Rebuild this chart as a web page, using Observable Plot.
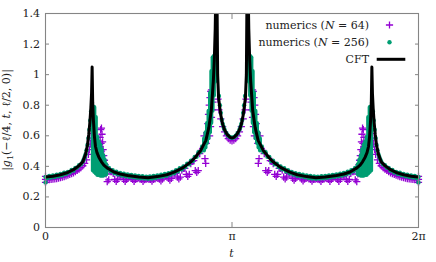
<!DOCTYPE html>
<html><head><meta charset="utf-8">
<script src="https://cdn.jsdelivr.net/npm/d3@7"></script>
<script src="https://cdn.jsdelivr.net/npm/@observablehq/plot@0.6"></script>
<style>
html,body{margin:0;padding:0;background:#fff;}
#chart svg{display:block;}
</style></head><body><div id="chart"></div>
<script>
// t is stored in units of pi
const xTicks = [0, 1, 2];
const xTickLabels = ["0", "π", "2π"];
const yTicks = [0, 0.2, 0.4, 0.6, 0.8, 1, 1.2, 1.4];
const yTickLabels = ["0", "0.2", "0.4", "0.6", "0.8", "1", "1.2", "1.4"];
const seriesNames = ["numerics (N = 64)", "numerics (N = 256)", "CFT"];
const seriesColors = ["#9400d3", "#009e73", "#000000"];

// CFT curve [t/pi, |g1|]
const cft = [
[0,0.330],[0.04,0.335],[0.08,0.345],[0.12,0.360],[0.15,0.378],[0.18,0.405],[0.20,0.430],[0.215,0.480],[0.225,0.540],[0.232,0.610],[0.238,0.690],[0.243,0.780],[0.247,0.880],[0.25,1.050],[0.253,0.820],[0.257,0.700],[0.262,0.600],[0.268,0.530],[0.276,0.490],[0.286,0.460],[0.30,0.430],[0.313,0.408],[0.33,0.390],[0.367,0.363],[0.40,0.350],[0.44,0.340],[0.50,0.330],[0.55,0.326],[0.60,0.333],[0.65,0.345],[0.69,0.362],[0.74,0.393],[0.78,0.430],[0.80,0.455],[0.83,0.500],[0.86,0.570],[0.876,0.655],[0.889,0.765],[0.90,0.960],[0.905,1.090],[0.91,1.300],[0.914,1.600],[0.9167,2.200],[0.919,1.600],[0.923,1.000],[0.928,0.850],[0.935,0.780],[0.94,0.735],[0.95,0.675],[0.96,0.640],[0.975,0.607],[0.99,0.590],[1.0,0.586],
[1.01,0.590],[1.025,0.607],[1.04,0.640],[1.05,0.675],[1.06,0.735],[1.065,0.780],[1.072,0.850],[1.077,1.000],[1.081,1.600],[1.0833,2.200],[1.086,1.600],[1.09,1.300],[1.095,1.090],[1.10,0.960],[1.111,0.765],[1.124,0.655],[1.14,0.570],[1.17,0.500],[1.20,0.455],[1.22,0.430],[1.26,0.393],[1.31,0.362],[1.35,0.345],[1.40,0.333],[1.45,0.326],[1.50,0.330],[1.56,0.340],[1.60,0.350],[1.633,0.363],[1.67,0.390],[1.687,0.408],[1.70,0.430],[1.714,0.460],[1.724,0.490],[1.732,0.530],[1.738,0.600],[1.743,0.700],[1.747,0.820],[1.75,1.050],[1.753,0.880],[1.757,0.780],[1.762,0.690],[1.768,0.610],[1.775,0.540],[1.785,0.480],[1.80,0.430],[1.82,0.405],[1.85,0.378],[1.88,0.360],[1.92,0.345],[1.96,0.335],[2.0,0.330]
];

// numerics N = 64 [t/pi, |g1|]
const num64 = [
[0,0.315],[0,0.295],[0,0.335],[0.01,0.312],[0.02,0.313],[0.03,0.314],[0.04,0.316],[0.05,0.318],[0.06,0.320],[0.07,0.323],[0.08,0.326],[0.09,0.329],[0.10,0.333],[0.11,0.337],[0.12,0.342],[0.13,0.347],[0.14,0.352],[0.15,0.358],[0.16,0.365],[0.17,0.373],[0.18,0.382],[0.19,0.392],[0.20,0.404],[0.21,0.420],[0.22,0.442],[0.23,0.478],[0.235,0.51],[0.24,0.545],[0.245,0.585],[0.25,0.615],
[0.255,0.57],[0.26,0.53],[0.265,0.50],[0.27,0.48],[0.28,0.465],[0.29,0.53],[0.293,0.59],[0.296,0.64],[0.30,0.65],[0.303,0.61],[0.306,0.56],[0.309,0.51],[0.312,0.47],[0.316,0.44],[0.32,0.41],[0.325,0.35],[0.298,0.55],[0.30,0.50],[0.302,0.46],
[0.331,0.300],[0.339,0.312],[0.347,0.365],[0.355,0.365],[0.363,0.354],[0.371,0.314],
[0.379,0.302],[0.387,0.314],[0.395,0.340],[0.403,0.343],[0.411,0.335],[0.419,0.314],
[0.427,0.302],[0.435,0.314],[0.443,0.328],[0.451,0.332],[0.459,0.325],[0.467,0.314],
[0.475,0.302],[0.483,0.314],[0.491,0.320],[0.499,0.324],[0.507,0.317],[0.515,0.314],
[0.523,0.302],[0.531,0.313],[0.539,0.314],[0.547,0.320],[0.555,0.314],[0.563,0.315],
[0.571,0.303],[0.579,0.315],[0.587,0.318],[0.595,0.326],[0.603,0.322],[0.611,0.317],
[0.619,0.305],[0.627,0.317],[0.635,0.329],[0.643,0.337],[0.651,0.334],[0.659,0.322],
[0.667,0.310],[0.675,0.322],[0.683,0.347],[0.691,0.356],[0.699,0.355],[0.707,0.330],
[0.715,0.318],[0.723,0.330],[0.731,0.376],[0.739,0.387],[0.747,0.387],[0.755,0.347],
[0.763,0.335],[0.771,0.347],[0.779,0.417],[0.787,0.432],[0.795,0.437],[0.803,0.372],
[0.811,0.360],[0.819,0.372],[0.827,0.483],[0.835,0.504],[0.843,0.518],[0.85,0.60],[0.855,0.45],[0.859,0.42],
[0.862,0.55],[0.866,0.62],[0.87,0.68],[0.874,0.74],[0.878,0.80],[0.882,0.85],[0.886,0.89],[0.89,0.90],[0.894,0.87],[0.898,0.82],[0.88,0.60],[0.885,0.66],[0.89,0.72],[0.895,0.77],
[0.925,0.84],[0.93,0.77],[0.94,0.71],[0.95,0.66],[0.96,0.625],[0.97,0.600],[0.98,0.582],[0.99,0.571],[1.0,0.567],
[1.01,0.571],[1.02,0.582],[1.03,0.600],[1.04,0.625],[1.05,0.66],[1.06,0.71],[1.07,0.77],[1.075,0.84],
[1.138,0.55],[1.134,0.62],[1.13,0.68],[1.126,0.74],[1.122,0.80],[1.118,0.85],[1.114,0.89],[1.11,0.90],[1.106,0.87],[1.102,0.82],[1.12,0.60],[1.115,0.66],[1.11,0.72],[1.105,0.77],
[1.669,0.300],[1.661,0.312],[1.653,0.365],[1.645,0.365],[1.637,0.354],[1.629,0.314],
[1.621,0.302],[1.613,0.314],[1.605,0.340],[1.597,0.343],[1.589,0.335],[1.581,0.314],
[1.573,0.302],[1.565,0.314],[1.557,0.328],[1.549,0.332],[1.541,0.325],[1.533,0.314],
[1.525,0.302],[1.517,0.314],[1.509,0.320],[1.501,0.324],[1.493,0.317],[1.485,0.314],
[1.477,0.302],[1.469,0.313],[1.461,0.314],[1.453,0.320],[1.445,0.314],[1.437,0.315],
[1.429,0.303],[1.421,0.315],[1.413,0.318],[1.405,0.326],[1.397,0.322],[1.389,0.317],
[1.381,0.305],[1.373,0.317],[1.365,0.329],[1.357,0.337],[1.349,0.334],[1.341,0.322],
[1.333,0.310],[1.325,0.322],[1.317,0.347],[1.309,0.356],[1.301,0.355],[1.293,0.330],
[1.285,0.318],[1.277,0.330],[1.269,0.376],[1.261,0.387],[1.253,0.387],[1.245,0.347],
[1.237,0.335],[1.229,0.347],[1.221,0.417],[1.213,0.432],[1.205,0.437],[1.197,0.372],
[1.189,0.360],[1.181,0.372],[1.173,0.483],[1.165,0.504],[1.157,0.518],[1.15,0.60],[1.145,0.45],[1.141,0.42],
[1.745,0.57],[1.74,0.53],[1.735,0.50],[1.73,0.48],[1.72,0.465],[1.71,0.53],[1.707,0.59],[1.704,0.64],[1.70,0.65],[1.697,0.61],[1.694,0.56],[1.691,0.51],[1.688,0.47],[1.684,0.44],[1.68,0.41],[1.675,0.35],[1.702,0.55],[1.70,0.50],[1.698,0.46],
[2,0.315],[2,0.295],[2,0.335],[1.99,0.312],[1.98,0.313],[1.97,0.314],[1.96,0.316],[1.95,0.318],[1.94,0.320],[1.93,0.323],[1.92,0.326],[1.91,0.329],[1.90,0.333],[1.89,0.337],[1.88,0.342],[1.87,0.347],[1.86,0.352],[1.85,0.358],[1.84,0.365],[1.83,0.373],[1.82,0.382],[1.81,0.392],[1.80,0.404],[1.79,0.420],[1.78,0.442],[1.77,0.478],[1.765,0.51],[1.76,0.545],[1.755,0.585],[1.75,0.615]
];

// numerics N = 256 [t/pi, |g1|]
const num256 = [
[0,0.33],[0,0.295],[0.01,0.323],[0.02,0.338],[0.03,0.327],[0.04,0.341],[0.05,0.330],[0.06,0.345],[0.07,0.335],[0.08,0.350],[0.09,0.342],[0.10,0.358],[0.11,0.350],[0.12,0.364],[0.13,0.360],[0.14,0.376],[0.15,0.372],[0.16,0.390],[0.17,0.392],[0.18,0.408],[0.19,0.413],[0.20,0.432],[0.205,0.445],[0.21,0.462],[0.215,0.48],[0.22,0.505],[0.225,0.54],[0.23,0.585],[0.235,0.64],[0.24,0.70],[0.245,0.76],[0.25,0.79],
[0.33,0.383],[0.34,0.390],[0.35,0.368],[0.36,0.375],[0.37,0.355],[0.38,0.365],[0.39,0.347],[0.40,0.357],[0.41,0.340],[0.42,0.352],[0.43,0.335],[0.44,0.347],[0.45,0.331],[0.46,0.344],[0.47,0.328],[0.48,0.340],[0.49,0.325],[0.50,0.337],[0.51,0.322],[0.52,0.335],[0.53,0.320],[0.54,0.333],[0.55,0.319],[0.56,0.334],[0.57,0.321],[0.58,0.337],[0.59,0.324],[0.60,0.340],[0.61,0.328],[0.62,0.345],[0.63,0.333],[0.64,0.350],[0.65,0.338],[0.66,0.356],[0.67,0.346],[0.68,0.364],[0.69,0.355],[0.70,0.375],[0.71,0.367],[0.72,0.388],[0.73,0.380],[0.74,0.400],[0.75,0.395],[0.76,0.418],[0.77,0.413],[0.78,0.437],[0.79,0.435],[0.80,0.462],[0.81,0.463],[0.82,0.492],[0.83,0.493],[0.84,0.530],
[0.93,0.86],[0.935,0.80],[0.94,0.75],[0.945,0.705],[0.95,0.678],[0.955,0.657],[0.96,0.64],[0.97,0.617],[0.98,0.600],[0.99,0.591],[1.0,0.587],
[1.01,0.591],[1.02,0.600],[1.03,0.617],[1.04,0.64],[1.045,0.657],[1.05,0.678],[1.055,0.705],[1.06,0.75],[1.065,0.80],[1.07,0.86],
[1.67,0.383],[1.66,0.390],[1.65,0.368],[1.64,0.375],[1.63,0.355],[1.62,0.365],[1.61,0.347],[1.60,0.357],[1.59,0.340],[1.58,0.352],[1.57,0.335],[1.56,0.347],[1.55,0.331],[1.54,0.344],[1.53,0.328],[1.52,0.340],[1.51,0.325],[1.50,0.337],[1.49,0.322],[1.48,0.335],[1.47,0.320],[1.46,0.333],[1.45,0.319],[1.44,0.334],[1.43,0.321],[1.42,0.337],[1.41,0.324],[1.40,0.340],[1.39,0.328],[1.38,0.345],[1.37,0.333],[1.36,0.350],[1.35,0.338],[1.34,0.356],[1.33,0.346],[1.32,0.364],[1.31,0.355],[1.30,0.375],[1.29,0.367],[1.28,0.388],[1.27,0.380],[1.26,0.400],[1.25,0.395],[1.24,0.418],[1.23,0.413],[1.22,0.437],[1.21,0.435],[1.20,0.462],[1.19,0.463],[1.18,0.492],[1.17,0.493],[1.16,0.530],
[2,0.33],[2,0.295],[1.99,0.323],[1.98,0.338],[1.97,0.327],[1.96,0.341],[1.95,0.330],[1.94,0.345],[1.93,0.335],[1.92,0.350],[1.91,0.342],[1.90,0.358],[1.89,0.350],[1.88,0.364],[1.87,0.360],[1.86,0.376],[1.85,0.372],[1.84,0.390],[1.83,0.392],[1.82,0.408],[1.81,0.413],[1.80,0.432],[1.795,0.445],[1.79,0.462],[1.785,0.48],[1.78,0.505],[1.775,0.54],[1.77,0.585],[1.765,0.64],[1.76,0.70],[1.755,0.76],[1.75,0.79]
];

// N = 256 fast-oscillation bursts: [t/pi, min, max]
const num256Bursts = [
[0.254,0.37,0.79],[0.262,0.36,0.785],[0.27,0.35,0.72],[0.278,0.34,0.59],[0.286,0.34,0.56],[0.294,0.335,0.54],[0.302,0.335,0.51],[0.31,0.335,0.47],[0.318,0.34,0.44],[0.326,0.345,0.41],
[0.85,0.50,0.58],[0.858,0.52,0.62],[0.866,0.55,0.68],[0.874,0.58,0.76],[0.882,0.62,0.88],[0.889,0.68,1.02],[0.896,0.76,1.11],[0.903,0.86,1.12],[0.909,0.95,1.10],
[1.15,0.50,0.58],[1.142,0.52,0.62],[1.134,0.55,0.68],[1.126,0.58,0.76],[1.118,0.62,0.88],[1.111,0.68,1.02],[1.104,0.76,1.11],[1.097,0.86,1.12],[1.091,0.95,1.10],
[1.746,0.37,0.79],[1.738,0.36,0.785],[1.73,0.35,0.72],[1.722,0.34,0.59],[1.714,0.34,0.56],[1.706,0.335,0.54],[1.698,0.335,0.51],[1.69,0.335,0.47],[1.682,0.34,0.44],[1.674,0.345,0.41]
];

const FONT = "DejaVu Serif";
const plusSymbol = {draw(ctx) { ctx.moveTo(-3.6, 0); ctx.lineTo(3.6, 0); ctx.moveTo(0, -3.6); ctx.lineTo(0, 3.6); }};
const axisColor = "#858585";

const chart = Plot.plot({
  width: 436, height: 262,
  marginLeft: 45, marginRight: 18, marginTop: 13, marginBottom: 35,
  style: {fontFamily: FONT, fontSize: "11px", color: "#222", background: "#fff"},
  x: {domain: [0, 2]},
  y: {domain: [0, 1.4]},
  marks: [
    Plot.dot(num64, {x: d => d[0], y: d => d[1], symbol: plusSymbol, fill: "none", stroke: seriesColors[0], strokeWidth: 1.3}),
    Plot.ruleX(num256Bursts, {x: d => d[0], y1: d => d[1], y2: d => d[2], stroke: seriesColors[1], strokeWidth: 4, strokeLinecap: "round"}),
    Plot.dot(num256, {x: d => d[0], y: d => d[1], r: 2.2, fill: seriesColors[1], stroke: null}),
    Plot.line(cft, {x: d => d[0], y: d => d[1], stroke: seriesColors[2], strokeWidth: 3, clip: true, curve: "linear"}),
    Plot.frame({stroke: axisColor, strokeWidth: 1.1}),
    Plot.axisY(yTicks, {anchor: "left", tickSize: -4, tickPadding: 9.5, stroke: axisColor, tickFormat: d => yTickLabels[yTicks.indexOf(d)], label: null}),
    Plot.axisY(yTicks, {anchor: "right", tickSize: -4, stroke: axisColor, tickFormat: () => "", label: null}),
    Plot.axisX(xTicks, {anchor: "bottom", tickSize: -5, tickPadding: 10, stroke: axisColor, tickFormat: d => xTickLabels[xTicks.indexOf(d)], label: null}),
    Plot.axisX(xTicks, {anchor: "top", tickSize: -5, stroke: axisColor, tickFormat: () => "", label: null})
  ]
});
document.getElementById("chart").appendChild(chart);

const svg = d3.select(chart);
const g = svg.append("g").attr("font-family", FONT).attr("font-size", 11).attr("fill", "#222");

// y label
const yl = g.append("text").attr("transform", "translate(10,120) rotate(-90)").attr("text-anchor", "middle");
yl.append("tspan").text("|");
yl.append("tspan").attr("font-style", "italic").text("g");
yl.append("tspan").attr("font-size", 8).attr("dy", 2.5).text("1");
yl.append("tspan").attr("dy", -2.5).text("(−ℓ/4, ");
yl.append("tspan").attr("font-style", "italic").text("t");
yl.append("tspan").text(", ℓ/2, 0)|");

// x label
g.append("text").attr("x", 231.5).attr("y", 257).attr("text-anchor", "middle").attr("font-style", "italic").text("t");

// legend
const legY = [25, 42.3, 59.3];
const legendNums = ["64", "256"];
[0, 1].forEach(i => {
  const t = g.append("text").attr("x", 369).attr("y", legY[i]).attr("dy", "0.35em").attr("text-anchor", "end");
  t.append("tspan").text("numerics (");
  t.append("tspan").attr("font-style", "italic").text("N");
  t.append("tspan").text(" = " + legendNums[i] + ")");
});
g.append("text").attr("x", 369).attr("y", legY[2]).attr("dy", "0.35em").attr("text-anchor", "end").text(seriesNames[2]);
g.append("path").attr("d", `M385.9,${legY[0]}h7.2M389.5,${legY[0] - 3.6}v7.2`).attr("stroke", seriesColors[0]).attr("stroke-width", 1.3).attr("fill", "none");
g.append("circle").attr("cx", 389.5).attr("cy", legY[1]).attr("r", 2.2).attr("fill", seriesColors[1]);
g.append("line").attr("x1", 376.7).attr("x2", 405.3).attr("y1", legY[2]).attr("y2", legY[2]).attr("stroke", "#000").attr("stroke-width", 3);
</script>
</body></html>
